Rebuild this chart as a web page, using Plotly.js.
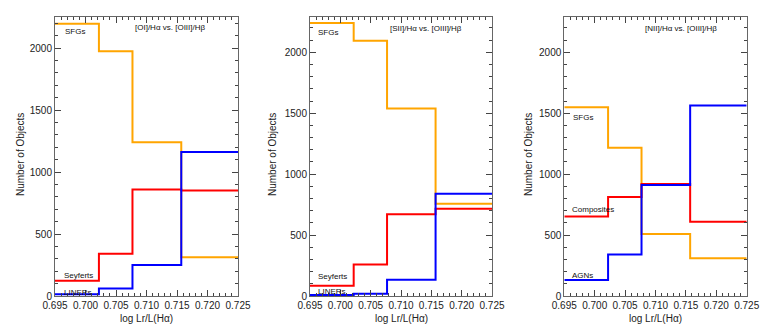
<!DOCTYPE html>
<html>
<head>
<meta charset="utf-8">
<script src="https://cdn.plot.ly/plotly-3.0.1.min.js"></script>
<style>
  body { margin: 0; background: #fff; }
  #chart { width: 763px; height: 332px; }
</style>
</head>
<body>
<div id="chart"></div>
<script>
// bordes de los bins (log Lr/L(Ha))
const binEdges = [0.695, 0.7022, 0.7077, 0.7157, 0.725];

// panel 1: [OI]/Ha vs [OIII]/Hb
const sfg1 = [2196, 1973, 1239, 312];
const sey1 = [123, 340, 858, 850];
const lin1 = [15, 61, 250, 1162];

// panel 2: [SII]/Ha vs [OIII]/Hb
const sfg2 = [2240, 2095, 1538, 758];
const sey2 = [85, 258, 670, 717];
const lin2 = [8, 19, 134, 840];

// panel 3: [NII]/Ha vs [OIII]/Hb
const sfg3 = [1549, 1217, 508, 310];
const comp3 = [653, 813, 920, 610];
const agn3 = [132, 340, 912, 1563];

const panelTitles = ["[OI]/H\u03b1 vs. [OIII]/H\u03b2", "[SII]/H\u03b1 vs. [OIII]/H\u03b2", "[NII]/H\u03b1 vs. [OIII]/H\u03b2"];
const yMax = [2250, 2290, 2290];

const W = 763, H = 332;
const px = (v) => v / W;
const domainsX = [[55, 238], [310, 492], [564.3, 746.7]];
const domY = [1 - 296 / H, 1 - 17 / H];

const colores = { sfg: '#FFA500', red: '#FF0000', blue: '#0000FF' };

function escalon(vals, color, n) {
    return {
        x: binEdges,
        y: vals.concat([vals[vals.length - 1]]),
        mode: 'lines',
        line: { shape: 'hv', color: color, width: 2 },
        xaxis: n === 1 ? 'x' : 'x' + n,
        yaxis: n === 1 ? 'y' : 'y' + n,
        hoverinfo: 'skip',
        showlegend: false
    };
}

const traces = [
    escalon(sfg1, colores.sfg, 1), escalon(sey1, colores.red, 1), escalon(lin1, colores.blue, 1),
    escalon(sfg2, colores.sfg, 2), escalon(sey2, colores.red, 2), escalon(lin2, colores.blue, 2),
    escalon(sfg3, colores.sfg, 3), escalon(comp3, colores.red, 3), escalon(agn3, colores.blue, 3)
];

const tickFont = { family: 'Liberation Sans, Arial, sans-serif', size: 10, color: '#222' };
const labelFont = { family: 'Liberation Sans, Arial, sans-serif', size: 8, color: '#111' };

function ejeX(i) {
    return {
        domain: [px(domainsX[i][0]), px(domainsX[i][1])],
        anchor: i === 0 ? 'y' : 'y' + (i + 1),
        range: [0.695, 0.725],
        tick0: 0.695, dtick: 0.005, tickformat: '.3f',
        ticks: 'inside', ticklen: 6, tickcolor: '#444',
        minor: { dtick: 0.001, ticks: 'inside', ticklen: 3, tickcolor: '#444' },
        showline: true, linecolor: '#666', linewidth: 1, mirror: 'allticks',
        showgrid: false, zeroline: false, tickfont: tickFont
    };
}
function ejeY(i) {
    return {
        domain: domY,
        anchor: i === 0 ? 'x' : 'x' + (i + 1),
        range: [0, yMax[i]],
        dtick: 500,
        ticks: 'inside', ticklen: 6, tickcolor: '#444',
        minor: { dtick: 100, ticks: 'inside', ticklen: 3, tickcolor: '#444' },
        showline: true, linecolor: '#666', linewidth: 1, mirror: 'allticks',
        showgrid: false, zeroline: false, tickfont: tickFont
    };
}

const annotations = [];
function etiqueta(n, x, y, text) {
    annotations.push({
        xref: n === 1 ? 'x' : 'x' + n, yref: n === 1 ? 'y' : 'y' + n,
        x: x, y: y, text: text, showarrow: false,
        xanchor: 'left', yanchor: 'middle', font: labelFont
    });
}
etiqueta(1, 0.7078, 2167, panelTitles[0]);
etiqueta(2, 0.7078, 2197, panelTitles[1]);
etiqueta(3, 0.7079, 2197, panelTitles[2]);
etiqueta(1, 0.6963, 2135, 'SFGs');
etiqueta(1, 0.6962, 166, 'Seyferts');
etiqueta(1, 0.6962, 32, 'LINERs');
etiqueta(2, 0.6960, 2164, 'SFGs');
etiqueta(2, 0.6960, 159, 'Seyferts');
etiqueta(2, 0.6960, 41, 'LINERs');
etiqueta(3, 0.6961, 1464, 'SFGs');
etiqueta(3, 0.6960, 714, 'Composites');
etiqueta(3, 0.6960, 165, 'AGNs');

// titulos de ejes
const titleFont = { family: 'Liberation Sans, Arial, sans-serif', size: 10, color: '#222' };
[20, 272, 528].forEach(xp => {
    annotations.push({
        xref: 'paper', yref: 'paper', x: px(xp), y: 1 - 155 / H,
        text: 'Number of Objects', textangle: -90, showarrow: false,
        xanchor: 'center', yanchor: 'middle', font: titleFont
    });
});
domainsX.forEach(d => {
    annotations.push({
        xref: 'paper', yref: 'paper', x: px((d[0] + d[1]) / 2), y: 1 - 318 / H,
        text: 'log Lr/L(H\u03b1)', showarrow: false,
        xanchor: 'center', yanchor: 'middle', font: titleFont
    });
});

const layout = {
    width: W, height: H,
    margin: { l: 0, r: 0, t: 0, b: 0 },
    paper_bgcolor: '#fff', plot_bgcolor: '#fff',
    xaxis: ejeX(0), xaxis2: ejeX(1), xaxis3: ejeX(2),
    yaxis: ejeY(0), yaxis2: ejeY(1), yaxis3: ejeY(2),
    annotations: annotations
};

Plotly.newPlot('chart', traces, layout, { displayModeBar: false, staticPlot: true });
</script>
</body>
</html>
